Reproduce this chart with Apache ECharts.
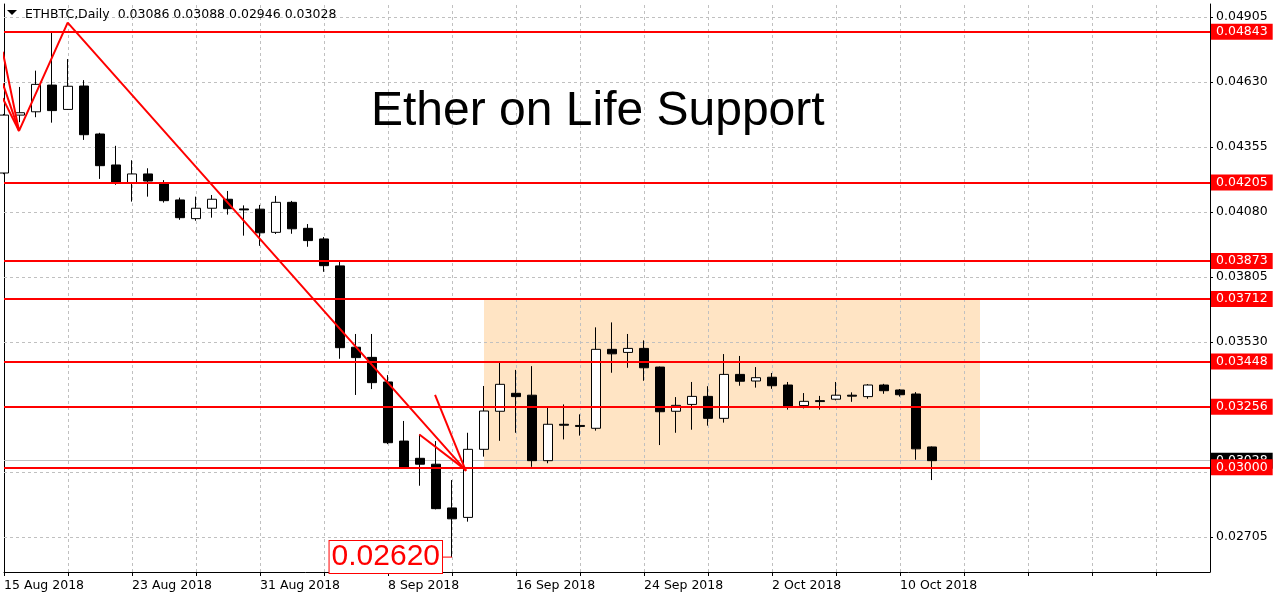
<!DOCTYPE html>
<html><head><meta charset="utf-8">
<script src="https://cdn.jsdelivr.net/npm/echarts@6/dist/echarts.min.js"></script>
<style>html,body{margin:0;padding:0;background:#fff}#c{width:1277px;height:600px}</style>
</head><body><div id="c"></div>
<script>
const symbolName = 'ETHBTC';
const period = 'Daily';
const chartTitle = 'Ether on Life Support';

const dates = [
 '15 Aug 2018','16 Aug 2018','17 Aug 2018','18 Aug 2018','19 Aug 2018','20 Aug 2018','21 Aug 2018','22 Aug 2018',
 '23 Aug 2018','24 Aug 2018','25 Aug 2018','26 Aug 2018','27 Aug 2018','28 Aug 2018','29 Aug 2018','30 Aug 2018',
 '31 Aug 2018','1 Sep 2018','2 Sep 2018','3 Sep 2018','4 Sep 2018','5 Sep 2018','6 Sep 2018','7 Sep 2018',
 '8 Sep 2018','9 Sep 2018','10 Sep 2018','11 Sep 2018','12 Sep 2018','13 Sep 2018','14 Sep 2018','15 Sep 2018',
 '16 Sep 2018','17 Sep 2018','18 Sep 2018','19 Sep 2018','20 Sep 2018','21 Sep 2018','22 Sep 2018','23 Sep 2018',
 '24 Sep 2018','25 Sep 2018','26 Sep 2018','27 Sep 2018','28 Sep 2018','29 Sep 2018','30 Sep 2018','1 Oct 2018',
 '2 Oct 2018','3 Oct 2018','4 Oct 2018','5 Oct 2018','6 Oct 2018','7 Oct 2018','8 Oct 2018','9 Oct 2018',
 '10 Oct 2018','11 Oct 2018','12 Oct 2018'
];
const opens = [
 0.04245,0.04490,0.04504,0.04617,0.04514,0.04613,0.04410,0.04279,
 0.04201,0.04241,0.04204,0.04131,0.04052,0.04096,0.04134,0.04093,
 0.04092,0.03994,0.04121,0.04011,0.03966,0.03852,0.03508,0.03465,
 0.03361,0.03111,0.03038,0.03013,0.02828,0.02788,0.03076,0.03237,
 0.03313,0.03305,0.03028,0.03182,0.03177,0.03165,0.03499,0.03486,
 0.03503,0.03424,0.03237,0.03266,0.03300,0.03207,0.03393,0.03365,
 0.03381,0.03348,0.03261,0.03282,0.03288,0.03305,0.03299,0.03348,
 0.03327,0.03310,0.03086
];
const closes = [
 0.04490,0.04500,0.04620,0.04509,0.04612,0.04407,0.04276,0.04201,
 0.04241,0.04211,0.04128,0.04056,0.04096,0.04134,0.04094,0.04089,
 0.03992,0.04121,0.04009,0.03959,0.03853,0.03506,0.03464,0.03358,
 0.03104,0.03000,0.03013,0.02825,0.02782,0.03076,0.03238,0.03351,
 0.03299,0.03028,0.03182,0.03178,0.03173,0.03499,0.03480,0.03503,
 0.03421,0.03235,0.03262,0.03300,0.03207,0.03393,0.03364,0.03379,
 0.03345,0.03256,0.03279,0.03278,0.03305,0.03301,0.03348,0.03324,
 0.03307,0.03078,0.03028
];
const lows = [
 0.04240,0.04460,0.04481,0.04458,0.04512,0.04385,0.04220,0.04195,
 0.04124,0.04145,0.04120,0.04047,0.04043,0.04056,0.04069,0.03980,
 0.03937,0.03987,0.03988,0.03933,0.03827,0.03459,0.03306,0.03331,
 0.03098,0.02995,0.02922,0.02822,0.02620,0.02770,0.03045,0.03112,
 0.03146,0.03002,0.03017,0.03118,0.03134,0.03155,0.03400,0.03421,
 0.03366,0.03094,0.03146,0.03159,0.03176,0.03189,0.03345,0.03337,
 0.03332,0.03244,0.03249,0.03244,0.03283,0.03277,0.03290,0.03311,
 0.03299,0.03032,0.02946
];
const highs = [
 0.04495,0.04609,0.04678,0.04843,0.04727,0.04638,0.04415,0.04360,
 0.04299,0.04265,0.04215,0.04141,0.04145,0.04152,0.04169,0.04108,
 0.04110,0.04148,0.04127,0.04029,0.03974,0.03870,0.03564,0.03564,
 0.03390,0.03196,0.03139,0.03111,0.02946,0.03146,0.03344,0.03442,
 0.03412,0.03428,0.03252,0.03266,0.03224,0.03592,0.03613,0.03564,
 0.03537,0.03426,0.03297,0.03361,0.03343,0.03479,0.03471,0.03424,
 0.03399,0.03361,0.03314,0.03302,0.03361,0.03317,0.03352,0.03353,
 0.03331,0.03318,0.03088
];

const xLabelIdx = [0, 8, 16, 24, 32, 40, 48, 56];
const xGridIdx = [0, 4, 8, 12, 16, 20, 24, 28, 32, 36, 40, 44, 48, 52, 56, 60, 64, 68, 72];
const yGridValues = [0.04905, 0.04630, 0.04355, 0.04080, 0.03805, 0.03530, 0.03255, 0.02980, 0.02705];
const yLabelValues = [0.04905, 0.04630, 0.04355, 0.04080, 0.03805, 0.03530, 0.02705];
const yMin = 0.02557, yMax = 0.04960;
const xMax = 75.375;

const levels = [0.04843, 0.04205, 0.03873, 0.03712, 0.03448, 0.03256, 0.03000];

const rangeStartIdx = 30, rangeEndIdx = 61;
const rangeTop = 0.03712, rangeBottom = 0.03000;

const zigzagMain = [[-0.08, 0.04758], [0.94, 0.04423], [3.98, 0.04881], [28.87, 0.02986]];
const zigzagLeft2 = [[-0.08, 0.04624], [0.94, 0.04423]];
const zigzagLeft3 = [[-0.08, 0.04562], [0.94, 0.04423]];
const arrowBarb1 = [[26.94, 0.03306], [28.87, 0.02984]];
const arrowBarb2 = [[25.96, 0.03139], [28.87, 0.02988]];

const lowIdx = 28, lowVal = 0.02620;

const FONT = 'DejaVu Sans';
const RED = '#FF0000';
const f5 = v => Number(v).toFixed(5);
const last = dates.length - 1;
const candleData = dates.map((d, i) => [i, opens[i], closes[i], lows[i], highs[i]]);

const chart = echarts.init(document.getElementById('c'), null, {renderer: 'canvas'});

function redLine(data, z) {
  return {type: 'line', data: data, symbol: 'none', showSymbol: false, silent: true, z: z || 6,
    lineStyle: {color: RED, width: 2}, clip: true};
}

const option = {
  animation: false,
  backgroundColor: '#fff',
  title: [
    {text: chartTitle, left: 371, top: 88, padding: 0,
     textStyle: {fontFamily: 'Liberation Sans', fontSize: 48, fontWeight: 'normal', color: '#000', lineHeight: 48}},
    {text: symbolName + ',' + period + '  ' + f5(opens[last]) + ' ' + f5(highs[last]) + ' ' + f5(lows[last]) + ' ' + f5(closes[last]),
     left: 25, top: 7, padding: 0,
     textStyle: {fontFamily: FONT, fontSize: 12.5, fontWeight: 'normal', color: '#000', lineHeight: 15}}
  ],
  graphic: [{type: 'polygon', shape: {points: [[7, 10], [17, 10], [12, 15]]}, style: {fill: '#000'}, silent: true}],
  grid: {left: 4, right: 67, top: 4, bottom: 28, containLabel: false},
  xAxis: {
    type: 'value', min: 0, max: xMax,
    axisLine: {show: true, onZero: false, lineStyle: {color: '#000', width: 1}},
    axisTick: {show: true, customValues: xGridIdx, length: 4, lineStyle: {color: '#000'}},
    axisLabel: {customValues: xLabelIdx, formatter: v => dates[Math.round(v)] || '', align: 'left', margin: 6,
      color: '#000', fontFamily: FONT, fontSize: 12.5, lineHeight: 15},
    splitLine: {show: false}
  },
  yAxis: [
    {type: 'value', position: 'right', min: yMin, max: yMax,
     axisLine: {show: true, onZero: false, lineStyle: {color: '#000', width: 1}},
     axisTick: {show: true, customValues: yGridValues, length: 3, lineStyle: {color: '#000'}},
     axisLabel: {customValues: yLabelValues, formatter: v => f5(v), margin: 6, color: '#000', fontFamily: FONT, fontSize: 12.5},
     splitLine: {show: false}},
    {type: 'value', position: 'left', min: yMin, max: yMax,
     axisLine: {show: true, onZero: false, lineStyle: {color: '#000', width: 1}},
     axisTick: {show: false}, axisLabel: {show: false}, splitLine: {show: false}}
  ],
  series: [
    {type: 'line', data: [], silent: true, z: 1,
     markArea: {silent: true, z: 0, itemStyle: {color: '#FFE4C4'},
       data: [[{xAxis: rangeStartIdx, yAxis: rangeTop}, {xAxis: rangeEndIdx, yAxis: rangeBottom}]]},
     markLine: {silent: true, z: 1, precision: 5, symbol: ['none', 'none'], label: {show: false},
       lineStyle: {color: '#C0C0C0', type: [3, 3], width: 1},
       emphasis: {disabled: true},
       data: xGridIdx.filter(v => v > 0).map(v => ({xAxis: v})).concat(yGridValues.map(v => ({yAxis: v})))}
    },
    {type: 'line', data: [], silent: true, z: 1,
     markLine: {silent: true, z: 1.5, precision: 5, symbol: ['none', 'none'],
       lineStyle: {color: '#C0C0C0', type: 'solid', width: 1},
       emphasis: {disabled: true},
       label: {show: true, position: 'end', distance: 1, formatter: p => f5(p.value), backgroundColor: '#000',
         color: '#fff', fontFamily: FONT, fontSize: 12.5, lineHeight: 14, padding: [1, 5]},
       data: [{yAxis: closes[last]}]}
    },
    {type: 'candlestick', data: candleData, barWidth: 10, z: 2, silent: true, clip: true,
     itemStyle: {color: '#fff', color0: '#000', borderColor: '#000', borderColor0: '#000', borderWidth: 1}},
    {type: 'line', data: [], silent: true, z: 5,
     markLine: {silent: true, z: 5, precision: 5, symbol: ['none', 'none'],
       lineStyle: {color: RED, type: 'solid', width: 2},
       emphasis: {disabled: true},
       label: {show: true, position: 'end', distance: 1, formatter: p => f5(p.value), backgroundColor: RED,
         color: '#fff', fontFamily: FONT, fontSize: 12.5, lineHeight: 14, padding: [1, 5]},
       data: levels.map(v => ({yAxis: v}))}
    },
    redLine(zigzagMain), redLine(zigzagLeft2), redLine(zigzagLeft3), redLine(arrowBarb1), redLine(arrowBarb2),
    {type: 'line', data: [[lowIdx - 0.6, lowVal], [lowIdx, lowVal]], symbol: 'none', showSymbol: false, silent: true, z: 7,
     lineStyle: {color: RED, width: 1},
     markPoint: {silent: true, z: 7, symbol: 'rect', symbolSize: 1, itemStyle: {color: 'rgba(0,0,0,0)'},
       label: {show: true, position: 'left', distance: 9.5, formatter: () => f5(lowVal), color: RED,
         fontFamily: 'Liberation Sans', fontSize: 30, lineHeight: 30, backgroundColor: '#fff',
         borderColor: RED, borderWidth: 1, padding: [1, 2]},
       data: [{coord: [lowIdx, lowVal]}]}
    }
  ]
};
chart.setOption(option);
</script></body></html>
